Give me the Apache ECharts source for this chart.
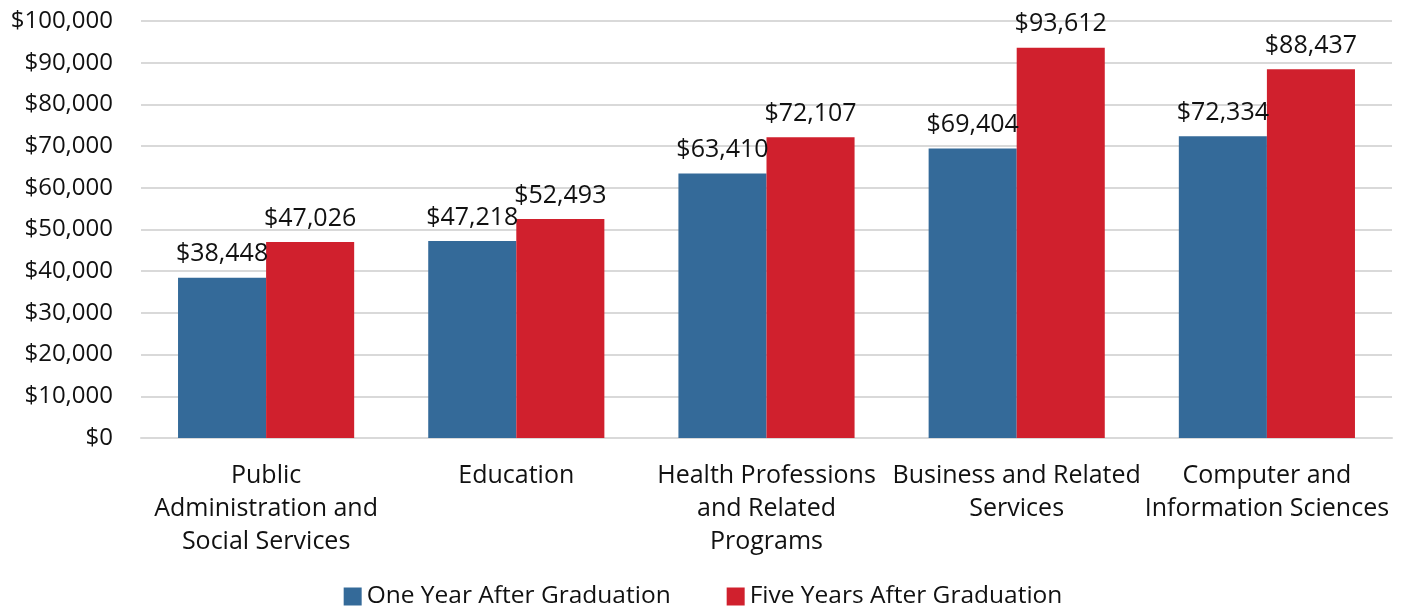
<!DOCTYPE html>
<html>
<head>
<meta charset="utf-8">
<script src="https://cdn.jsdelivr.net/npm/echarts@6/dist/echarts.min.js"></script>
<style>
  html, body { margin: 0; padding: 0; background: #fff; }
  #chart { width: 1406px; height: 611px; }
</style>
</head>
<body>
<div id="chart"></div>
<script>
const categories = [
  'Public\nAdministration and\nSocial Services',
  'Education',
  'Health Professions\nand Related\nPrograms',
  'Business and Related\nServices',
  'Computer and\nInformation Sciences'
];
const oneYear = [38448, 47218, 63410, 69404, 72334];
const fiveYears = [47026, 52493, 72107, 93612, 88437];
const seriesNames = ['One Year After Graduation', 'Five Years After Graduation'];

const font = '"Open Sans", "Noto Sans", sans-serif';
const money = v => '$' + v.toLocaleString('en-US');

const chart = echarts.init(document.getElementById('chart'));

const barLabel = {
  show: true, position: 'top', distance: 11,
  fontFamily: font, fontSize: 25, color: '#111',
  formatter: p => money(p.value)
};

chart.setOption({
  animation: false,
  color: ['#346a99', '#d0202d'],
  textStyle: { fontFamily: font, color: '#111' },
  grid: { left: 141, right: 14, top: 21, bottom: 173, containLabel: false },
  legend: {
    top: 584,
    left: 'center',
    padding: 0,
    itemWidth: 18,
    itemHeight: 18,
    itemGap: 56,
    icon: 'rect',
    textStyle: { fontFamily: font, fontSize: 24.5, color: '#111' },
    data: seriesNames
  },
  xAxis: {
    type: 'category',
    data: categories,
    axisTick: { show: false },
    axisLine: { lineStyle: { color: '#d9d9d9', width: 2 } },
    axisLabel: {
      fontFamily: font, fontSize: 25, color: '#111',
      lineHeight: 33, margin: 21, interval: 0
    }
  },
  yAxis: {
    type: 'value',
    min: 0,
    max: 100000,
    interval: 10000,
    axisLine: { show: false },
    axisTick: { show: false },
    splitLine: { lineStyle: { color: '#d9d9d9', width: 2 } },
    axisLabel: {
      fontFamily: font, fontSize: 24, color: '#111', margin: 28,
      formatter: money
    }
  },
  series: [
    {
      name: seriesNames[0],
      type: 'bar',
      data: oneYear,
      barGap: '0%',
      barCategoryGap: '29.6%',
      label: barLabel
    },
    {
      name: seriesNames[1],
      type: 'bar',
      data: fiveYears,
      barGap: '0%',
      barCategoryGap: '29.6%',
      label: barLabel
    }
  ]
});
</script>
</body>
</html>
